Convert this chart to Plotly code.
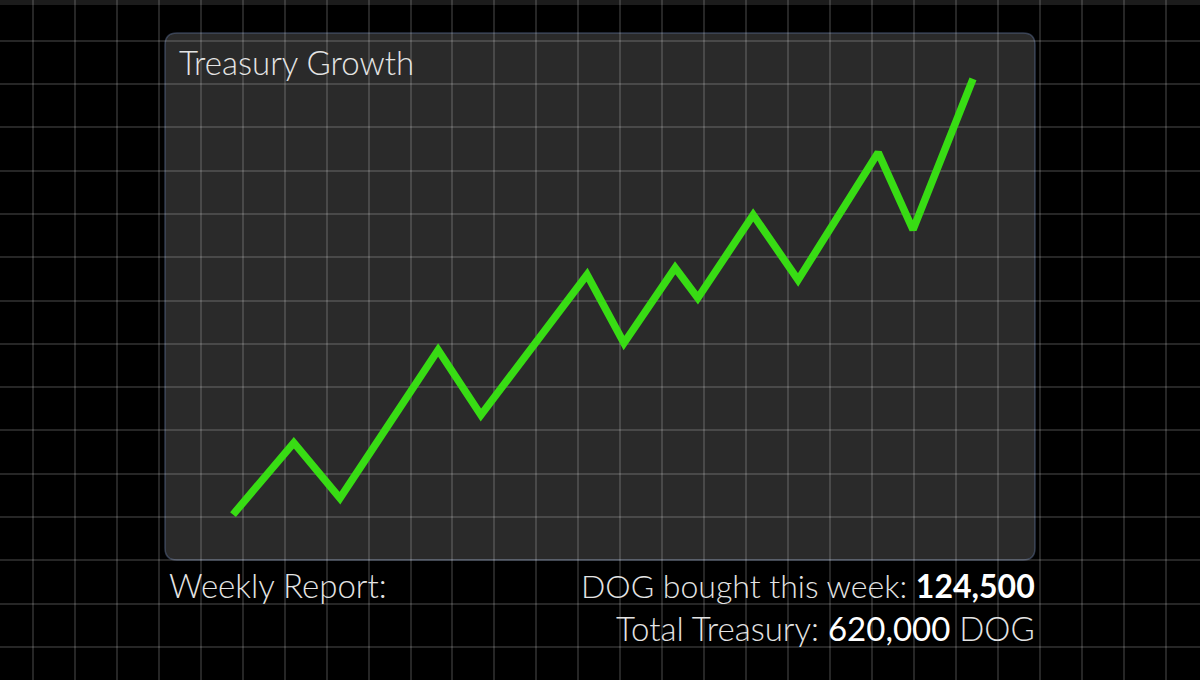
import plotly.graph_objects as go

# ---- data ----
days = [0, 1.45, 2.55, 4.89, 5.91, 8.44, 9.32, 10.54, 11.08, 12.40, 13.47, 15.38, 16.21, 17.64]
treasury_k = [117, 200, 136, 307, 232, 394, 315, 402, 367, 463, 388, 535, 446, 620]

chart_title = "Treasury Growth"
report_label = "Weekly Report:"
bought_label = "DOG bought this week: "
bought_value = "124,500"
total_label = "Total Treasury: "
total_value = "620,000"
total_unit = " DOG"

W, H = 1200, 680

def px(x):
    return x / W

def py(y):
    return 1 - y / H

# rounded panel
x0, x1, y0, y1, r = 165, 1035, 33, 560, 12
path = (
    f"M {px(x0+r)},{py(y0)} L {px(x1-r)},{py(y0)} Q {px(x1)},{py(y0)} {px(x1)},{py(y0+r)} "
    f"L {px(x1)},{py(y1-r)} Q {px(x1)},{py(y1)} {px(x1-r)},{py(y1)} "
    f"L {px(x0+r)},{py(y1)} Q {px(x0)},{py(y1)} {px(x0)},{py(y1-r)} "
    f"L {px(x0)},{py(y0+r)} Q {px(x0)},{py(y0)} {px(x0+r)},{py(y0)} Z"
)

fig = go.Figure()
fig.add_trace(go.Scatter(
    x=days, y=treasury_k, mode="lines",
    line=dict(color="#38dc14", width=7.5),
    hoverinfo="skip", showlegend=False,
))

font_light = dict(family="Lato, 'Open Sans', sans-serif", weight=300, color="#e4e4e4")
grid_col = "rgba(255,255,255,0.15)"

fig.update_layout(
    width=W, height=H,
    margin=dict(l=0, r=0, t=0, b=0),
    paper_bgcolor="#000000",
    plot_bgcolor="#000000",
    showlegend=False,
    xaxis=dict(range=[-5.554, 23.051], showgrid=True, gridcolor=grid_col,
               gridwidth=2, tick0=-4.768, dtick=1, zeroline=False,
               showticklabels=False, ticks="", showline=False, fixedrange=True),
    yaxis=dict(range=[-74.0, 711.2], showgrid=True, gridcolor=grid_col,
               gridwidth=2, tick0=664.2, dtick=50, zeroline=False,
               showticklabels=False, ticks="", showline=False, fixedrange=True),
    shapes=[
        dict(type="rect", xref="paper", yref="paper", x0=0, x1=1, y0=py(0), y1=py(5),
             fillcolor="#1c1c1c", line=dict(width=0), layer="below"),
        dict(type="path", xref="paper", yref="paper", path=path,
             fillcolor="#2a2a2a", line=dict(color="rgba(100,120,160,0.45)", width=1.5),
             layer="below"),
    ],
    annotations=[
        dict(text=chart_title, xref="paper", yref="paper", x=px(177), y=py(62),
             xanchor="left", yanchor="middle", showarrow=False,
             font=dict(size=33, **font_light)),
        dict(text=report_label, xref="paper", yref="paper", x=px(167), y=py(585),
             xanchor="left", yanchor="middle", showarrow=False,
             font=dict(size=33, **font_light)),
        dict(text=bought_label + "<span style='font-weight:700;fill:#ffffff'>" + bought_value + "</span>",
             xref="paper", yref="paper", x=px(1037), y=py(585),
             xanchor="right", yanchor="middle", showarrow=False,
             font=dict(size=32, **font_light)),
        dict(text=total_label + "<span style='font-weight:400;fill:#ffffff'>" + total_value + "</span>" + total_unit,
             xref="paper", yref="paper", x=px(1037), y=py(628),
             xanchor="right", yanchor="middle", showarrow=False,
             font=dict(size=33, **font_light)),
    ],
)

fig.write_html("out.html", config={"displayModeBar": False, "staticPlot": True},
               post_script="document.body.style.margin='0';document.body.style.background='#000';")
